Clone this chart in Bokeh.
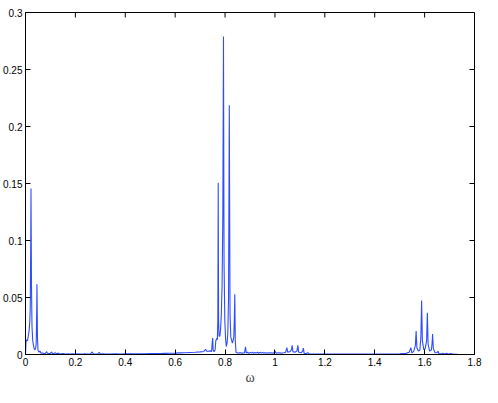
import math
from bokeh.plotting import figure
from bokeh.models import LinearAxis, FixedTicker, ColumnDataSource
from bokeh.embed import file_html
from bokeh.resources import INLINE

# spectrum samples
omega = [
    0.000, 0.002, 0.005, 0.008, 0.011, 0.014, 0.017, 0.019, 0.021, 0.022, 0.024, 0.026, 0.029,
    0.032, 0.035, 0.038, 0.041, 0.043, 0.045, 0.046, 0.048, 0.050, 0.054, 0.058, 0.062,
    0.066, 0.070, 0.075, 0.080, 0.085, 0.088, 0.095, 0.100, 0.105, 0.108, 0.115, 0.120,
    0.125, 0.130, 0.140, 0.150, 0.160, 0.170, 0.180, 0.190, 0.200, 0.210, 0.220, 0.230,
    0.240, 0.250, 0.260, 0.268, 0.272, 0.280, 0.290, 0.296, 0.300, 0.310, 0.320, 0.340,
    0.360, 0.380, 0.400, 0.420, 0.440, 0.460, 0.480, 0.500, 0.520, 0.540, 0.560, 0.580,
    0.600, 0.620, 0.640, 0.660, 0.680, 0.700, 0.715, 0.722, 0.726, 0.735, 0.742, 0.746,
    0.749, 0.7505, 0.752, 0.756, 0.760, 0.763, 0.766, 0.769, 0.771, 0.7726, 0.774, 0.776,
    0.779, 0.782, 0.785, 0.788, 0.791, 0.7937, 0.796, 0.799, 0.802, 0.805, 0.808, 0.811,
    0.814, 0.817, 0.820, 0.823, 0.826, 0.829, 0.832, 0.835, 0.837, 0.839, 0.841, 0.844,
    0.850, 0.860, 0.870, 0.878, 0.882, 0.885, 0.890, 0.895, 0.900, 0.905, 0.910, 0.915,
    0.920, 0.925, 0.930, 0.935, 0.940, 0.945, 0.950, 0.955, 0.960, 0.970, 0.980, 0.990,
    0.996, 1.000, 1.004, 1.015, 1.025, 1.035, 1.043, 1.048, 1.051, 1.060, 1.066, 1.069,
    1.072, 1.080, 1.088, 1.092, 1.095, 1.105, 1.111, 1.114, 1.117, 1.125, 1.132, 1.138,
    1.150, 1.200, 1.250, 1.300, 1.350, 1.400, 1.450, 1.500, 1.525, 1.538, 1.545, 1.549,
    1.556, 1.563, 1.566, 1.569, 1.575, 1.581, 1.585, 1.588, 1.591, 1.597, 1.602, 1.608,
    1.611, 1.614, 1.620, 1.627, 1.630, 1.632, 1.635, 1.642, 1.650, 1.654, 1.657, 1.665,
    1.672, 1.678, 1.690, 1.695, 1.705, 1.712, 1.725, 1.732,
]
amplitude = [
    0.0000, 0.0110, 0.0130, 0.0120, 0.0160, 0.0200, 0.0280, 0.0400, 0.1000, 0.1456, 0.0600, 0.0250, 0.0120,
    0.0080, 0.0050, 0.0040, 0.0060, 0.0100, 0.0400, 0.0617, 0.0150, 0.0040, 0.0020, 0.0030, 0.0010,
    0.0015, 0.0010, 0.0008, 0.0010, 0.0025, 0.0010, 0.0008, 0.0010, 0.0022, 0.0008, 0.0010, 0.0015,
    0.0005, 0.0012, 0.0005, 0.0008, 0.0004, 0.0007, 0.0004, 0.0006, 0.0004, 0.0006, 0.0005, 0.0005,
    0.0007, 0.0005, 0.0006, 0.0022, 0.0006, 0.0005, 0.0007, 0.0018, 0.0005, 0.0006, 0.0005, 0.0005,
    0.0006, 0.0005, 0.0006, 0.0006, 0.0006, 0.0007, 0.0007, 0.0008, 0.0008, 0.0009, 0.0010, 0.0011,
    0.0012, 0.0014, 0.0016, 0.0018, 0.0020, 0.0023, 0.0027, 0.0045, 0.0028, 0.0030, 0.0032, 0.0025,
    0.0120, 0.0145, 0.0040, 0.0025, 0.0040, 0.0120, 0.0140, 0.0130, 0.0300, 0.1506, 0.0300, 0.0160,
    0.0160, 0.0220, 0.0350, 0.0600, 0.1200, 0.2789, 0.0800, 0.0300, 0.0140, 0.0070, 0.0100, 0.0180,
    0.0500, 0.2187, 0.0350, 0.0150, 0.0130, 0.0100, 0.0120, 0.0150, 0.0300, 0.0528, 0.0120, 0.0020,
    0.0012, 0.0015, 0.0012, 0.0015, 0.0067, 0.0012, 0.0020, 0.0010, 0.0018, 0.0012, 0.0020, 0.0010,
    0.0018, 0.0012, 0.0020, 0.0011, 0.0019, 0.0012, 0.0018, 0.0012, 0.0015, 0.0012, 0.0015, 0.0012,
    0.0013, 0.0030, 0.0012, 0.0015, 0.0012, 0.0015, 0.0020, 0.0060, 0.0020, 0.0025, 0.0040, 0.0080,
    0.0025, 0.0020, 0.0030, 0.0080, 0.0020, 0.0015, 0.0030, 0.0056, 0.0010, 0.0008, 0.0015, 0.0005,
    0.0004, 0.0003, 0.0003, 0.0003, 0.0003, 0.0003, 0.0004, 0.0006, 0.0010, 0.0020, 0.0060, 0.0015,
    0.0025, 0.0080, 0.0206, 0.0060, 0.0030, 0.0040, 0.0150, 0.0473, 0.0120, 0.0040, 0.0050, 0.0120,
    0.0367, 0.0090, 0.0030, 0.0040, 0.0100, 0.0180, 0.0050, 0.0015, 0.0015, 0.0030, 0.0008, 0.0005,
    0.0012, 0.0004, 0.0010, 0.0003, 0.0008, 0.0003, 0.0002, 0.0001,
]

x_ticks = [0, 0.2, 0.4, 0.6, 0.8, 1, 1.2, 1.4, 1.6, 1.8]
x_tick_labels = ["0", "0.2", "0.4", "0.6", "0.8", "1", "1.2", "1.4", "1.6", "1.8"]
y_ticks = [0, 0.05, 0.1, 0.15, 0.2, 0.25, 0.3]
y_tick_labels = ["0", "0.05", "0.1", "0.15", "0.2", "0.25", "0.3"]
x_label = "ω"
x_min, x_max = 0, 1.8
y_min, y_max = 0, 0.3

src = ColumnDataSource(dict(omega=omega, amplitude=amplitude))

p = figure(width=482, height=387, output_backend="svg", toolbar_location=None,
           x_range=(x_min, x_max), y_range=(y_min, y_max),
           x_axis_location=None, y_axis_location=None,
           min_border_left=0, min_border_right=8, min_border_top=12, min_border_bottom=0)
p.grid.visible = False
p.outline_line_color = "black"
p.outline_line_width = 1
p.background_fill_color = "white"
p.border_fill_color = "white"

p.line("omega", "amplitude", source=src, line_color="#2f4dff", line_width=1.1)

# inward ticks on the top and right edges of the box
p.ray(x=x_ticks, y=[y_max] * len(x_ticks), length=5, length_units="screen",
      angle=-math.pi / 2, line_color="black", line_width=1)
p.ray(x=[x_max] * len(y_ticks), y=y_ticks, length=5, length_units="screen",
      angle=math.pi, line_color="black", line_width=1)

font = "Liberation Sans"

def style(ax):
    ax.major_tick_in = 5
    ax.major_tick_out = 0
    ax.minor_tick_line_color = None
    ax.axis_line_color = "black"
    ax.major_tick_line_color = "black"
    ax.major_label_text_font = font
    ax.major_label_text_font_size = "10px"
    ax.major_label_text_color = "black"

xb = LinearAxis(ticker=FixedTicker(ticks=x_ticks))
style(xb)
xb.major_label_overrides = {t: l for t, l in zip(x_ticks, x_tick_labels)}
xb.major_label_standoff = 3
xb.axis_label = x_label
xb.axis_label_text_font = "Liberation Serif"
xb.axis_label_text_font_style = "normal"
xb.axis_label_text_font_size = "14px"
xb.axis_label_standoff = 1
p.add_layout(xb, "below")

yl = LinearAxis(ticker=FixedTicker(ticks=y_ticks))
style(yl)
yl.major_label_overrides = {t: l for t, l in zip(y_ticks, y_tick_labels)}
yl.major_label_standoff = 3
p.add_layout(yl, "left")

open("out.html", "w").write(file_html(p, INLINE))
